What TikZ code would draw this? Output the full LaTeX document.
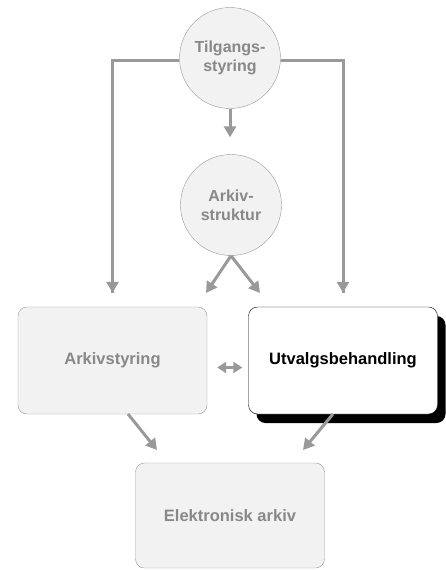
\documentclass[tikz,border=0pt]{standalone}
\usepackage{fontspec}
\setmainfont{Liberation Sans}
\usetikzlibrary{arrows.meta}
\usetikzlibrary{shadows}
\definecolor{linegray}{HTML}{999999}
\definecolor{boxfill}{HTML}{F2F2F2}
\definecolor{textgray}{HTML}{888888}

\begin{document}
\begin{tikzpicture}[x=1pt,y=-1pt,
	conn/.style={draw=linegray,line width=3pt,-{Triangle[length=11pt,width=12pt]}},
	topic/.style={circle,draw=linegray,fill=boxfill,minimum size=101pt,align=center,
		text=textgray,font=\bfseries\fontsize{16}{19}\selectfont},
	block/.style={rectangle,rounded corners=9pt,draw=linegray,fill=boxfill,
		minimum width=189pt,minimum height=107pt,text=textgray,
		font=\bfseries\fontsize{16.5}{19}\selectfont}]
\useasboundingbox (0,0) rectangle (445,570);
\node[topic] (tilgang) at (230,58) {Tilgangs-\\styring};
\node[topic] (arkstruktur) at (231,205) {Arkiv-\\struktur};
\node[block] (arkstyring) at (112.5,360.5) {Arkivstyring};
\node[block,draw=black,fill=white,text=black,
	drop shadow={shadow xshift=8pt,shadow yshift=-9pt,fill=black,opacity=1}]
	(utvalg) at (343,360.5) {Utvalgsbehandling};
\node[block,minimum height=105pt] (elarkiv) at (230,515.5) {Elektronisk arkiv};
% ends of the short arrows
\coordinate (strukL) at (206,293);
\coordinate (strukR) at (260,293);
\coordinate (styrOut) at (128,414);
\coordinate (styrIn) at (157,450);
\coordinate (utvOut) at (333,414);
\coordinate (utvIn) at (303,450);
\draw[conn,-] ([yshift=-2pt]tilgang.west) -| ([yshift=14pt]arkstyring.north);
\draw[conn] ([yshift=30pt]arkstyring.north) -- ([yshift=14pt]arkstyring.north);
\draw[conn,-] ([yshift=-2pt]tilgang.east) -| ([yshift=14pt]utvalg.north);
\draw[conn] ([yshift=30pt]utvalg.north) -- ([yshift=14pt]utvalg.north);
\draw[conn,shorten >=17pt] (tilgang.south) -- (tilgang.south |- arkstruktur.north);
\draw[conn] (arkstruktur.south) -- (strukL);
\draw[conn] (arkstruktur.south) -- (strukR);
\draw[conn,{Triangle[length=9pt,width=11pt]}-{Triangle[length=9pt,width=11pt]},
	shorten <=10pt,shorten >=6pt] ([yshift=-7pt]arkstyring.east) -- ([yshift=-7pt]utvalg.west);
\draw[conn] (styrOut) -- (styrIn);
\draw[conn] (utvOut) -- (utvIn);
\end{tikzpicture}
\end{document}
